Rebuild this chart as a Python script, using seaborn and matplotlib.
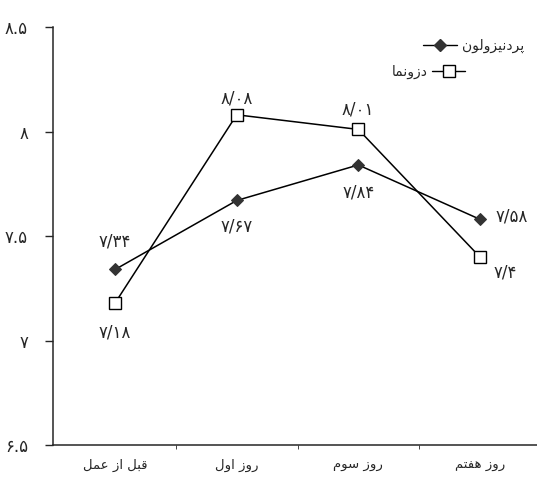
import matplotlib
matplotlib.use("Agg")
import matplotlib.pyplot as plt
import seaborn as sns
import pandas as pd
from matplotlib.lines import Line2D

# data
groups = ["قبل از عمل", "روز اول", "روز سوم", "روز هفتم"]
prednisolone = [7.34, 7.67, 7.84, 7.58]
second_drug = [7.18, 8.08, 8.01, 7.40]
pred_labels = ["۷/۳۴", "۷/۶۷", "۷/۸۴", "۷/۵۸"]
second_labels = ["۷/۱۸", "۸/۰۸", "۸/۰۱", "۷/۴"]
yticks = [6.5, 7, 7.5, 8, 8.5]
ytick_labels = ["۶.۵", "۷", "۷.۵", "۸", "۸.۵"]
legend_names = ["پردنیزولون", "دزونما"]

# matplotlib has no arabic shaping, so pick presentation forms by hand
# (isolated, final, initial, medial); None = letter does not join to the left
FORMS = {
    "ا": ("\uFE8D", "\uFE8E", None, None),
    "ب": ("\uFE8F", "\uFE90", "\uFE91", "\uFE92"),
    "پ": ("\uFB56", "\uFB57", "\uFB58", "\uFB59"),
    "ت": ("\uFE95", "\uFE96", "\uFE97", "\uFE98"),
    "د": ("\uFEA9", "\uFEAA", None, None),
    "ر": ("\uFEAD", "\uFEAE", None, None),
    "ز": ("\uFEAF", "\uFEB0", None, None),
    "س": ("\uFEB1", "\uFEB2", "\uFEB3", "\uFEB4"),
    "ع": ("\uFEC9", "\uFECA", "\uFECB", "\uFECC"),
    "ف": ("\uFED1", "\uFED2", "\uFED3", "\uFED4"),
    "ق": ("\uFED5", "\uFED6", "\uFED7", "\uFED8"),
    "ل": ("\uFEDD", "\uFEDE", "\uFEDF", "\uFEE0"),
    "م": ("\uFEE1", "\uFEE2", "\uFEE3", "\uFEE4"),
    "ن": ("\uFEE5", "\uFEE6", "\uFEE7", "\uFEE8"),
    "ه": ("\uFEE9", "\uFEEA", "\uFEEB", "\uFEEC"),
    "و": ("\uFEED", "\uFEEE", None, None),
    "ی": ("\uFBFC", "\uFBFD", "\uFBFE", "\uFBFF"),
}


def fa(text):
    out = []
    for i, ch in enumerate(text):
        if ch not in FORMS:
            out.append(ch)
            continue
        prev = text[i - 1] if i > 0 else None
        nxt = text[i + 1] if i + 1 < len(text) else None
        join_prev = prev in FORMS and FORMS[prev][2] is not None
        join_next = nxt in FORMS and FORMS[ch][2] is not None
        iso, fin, ini, med = FORMS[ch]
        if join_prev and join_next:
            out.append(med)
        elif join_prev:
            out.append(fin)
        elif join_next:
            out.append(ini)
        else:
            out.append(iso)
    return "".join(out)[::-1]


sns.set_style("ticks")
plt.rcParams["font.family"] = ["DejaVu Sans"]

df = pd.DataFrame({"x": range(len(groups)), "pred": prednisolone, "other": second_drug})

fig = plt.figure(figsize=(5.37, 4.78), dpi=100)
ax = fig.add_axes([0.099, 0.069, 0.901, 0.8745])

sns.lineplot(data=df, x="x", y="pred", ax=ax, color="black", linewidth=1.1,
             marker="D", markersize=6.5, markerfacecolor="#333333", markeredgecolor="#333333")
sns.lineplot(data=df, x="x", y="other", ax=ax, color="black", linewidth=1.1,
             marker="s", markersize=8.5, markerfacecolor="white", markeredgecolor="black",
             markeredgewidth=1.0)

# value labels
pred_off = [(0, 28), (0, -26), (0, -28), (32, 3)]
other_off = [(0, -30), (0, 16), (0, 20), (25, -16)]
for i, (v, lab) in enumerate(zip(prednisolone, pred_labels)):
    ax.annotate(lab, (i, v), xytext=pred_off[i], textcoords="offset pixels",
                ha="center", va="center", fontsize=12)
for i, (v, lab) in enumerate(zip(second_drug, second_labels)):
    ax.annotate(lab, (i, v), xytext=other_off[i], textcoords="offset pixels",
                ha="center", va="center", fontsize=12)

ax.set_xlim(-0.51, 3.47)
ax.set_ylim(6.5, 8.5)
ax.set_yticks(yticks)
ax.set_yticklabels(ytick_labels, fontsize=12)
ax.set_xticks(range(len(groups)))
ax.set_xticklabels([fa(g) for g in groups], fontsize=9.5)
ax.set_xticks([0.5, 1.5, 2.5], minor=True)
ax.tick_params(axis="x", which="major", length=0, pad=10)
ax.tick_params(axis="x", which="minor", length=3, direction="out")
ax.tick_params(axis="y", length=6, width=1, pad=12)
ax.set_xlabel("")
ax.set_ylabel("")
sns.despine(ax=ax)
for s in ["left", "bottom"]:
    ax.spines[s].set_linewidth(1.1)

h1 = Line2D([], [], color="black", linewidth=1.0, marker="D", markersize=6,
            markerfacecolor="#333333", markeredgecolor="#333333")
h2 = Line2D([], [], color="black", linewidth=1.0, marker="s", markersize=8.5,
            markerfacecolor="white", markeredgecolor="black")
leg1 = ax.legend([h1], [fa(legend_names[0])], loc="center right",
                 bbox_to_anchor=(1.0, 0.903), bbox_transform=fig.transFigure,
                 frameon=False, fontsize=10, handlelength=2.4, handletextpad=0.4)
ax.add_artist(leg1)
ax.legend([h2], [fa(legend_names[1])], loc="center right", markerfirst=False,
          bbox_to_anchor=(0.89, 0.85), bbox_transform=fig.transFigure,
          frameon=False, fontsize=10, handlelength=2.4, handletextpad=0.3)

fig.savefig("out.png", dpi=100)
